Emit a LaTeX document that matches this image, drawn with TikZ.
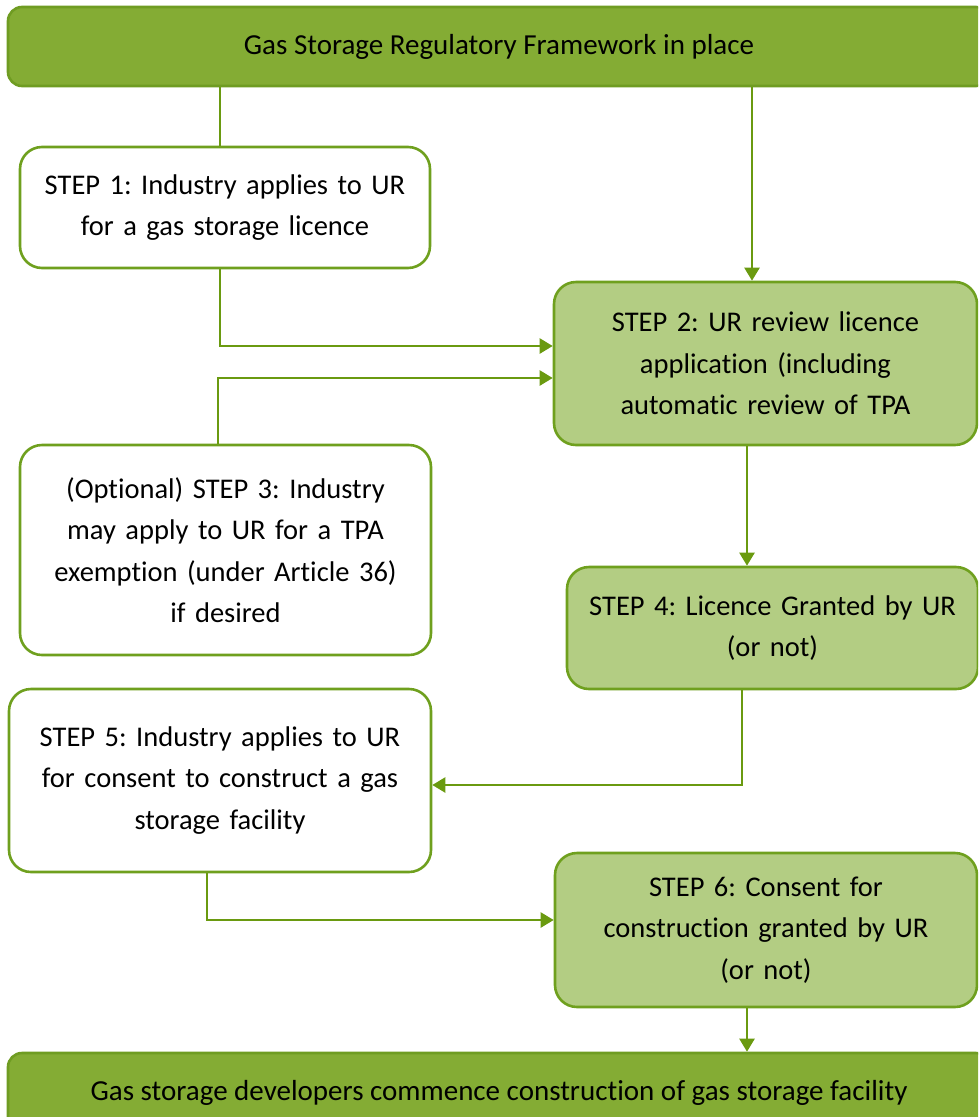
\documentclass[tikz,border=0pt]{standalone}
\usepackage{fontspec}
\setmainfont{Carlito}[Ligatures=NoCommon]
\frenchspacing
\usetikzlibrary{arrows.meta,calc}
\definecolor{barfill}{HTML}{84AC34}
\definecolor{barline}{HTML}{6F9C22}
\definecolor{lightfill}{HTML}{B3CD83}
\definecolor{boxline}{HTML}{6FA01E}
\definecolor{arrcol}{HTML}{6A9A10}
\tikzset{
  basebox/.style={rectangle, rounded corners=22pt, line width=2.6pt, draw=boxline, align=center, inner sep=0pt,
    font=\fontsize{28.5}{41.5}\selectfont},
  whitebox/.style={basebox, fill=white},
  greenbox/.style={basebox, fill=lightfill},
  barbox/.style={rectangle, rounded corners=14pt, line width=2.6pt, draw=barline, fill=barfill, align=center, inner sep=0pt,
    font=\fontsize{29}{32}\selectfont},
  conn/.style={draw=arrcol, line width=2.4pt},
  arr/.style={conn, -{Triangle[length=13pt,width=15pt]}}
}
\begin{document}
\begin{tikzpicture}[x=1pt,y=-1pt]
\useasboundingbox (0,0) rectangle (978,1117);
\clip (0,0) rectangle (978,1117);
% bars
\node[barbox, minimum width=982pt, minimum height=79pt] (top) at (499,46.5) {Gas Storage Regulatory Framework in place};
\node[barbox, minimum width=982pt, minimum height=80pt] (bot) at (499,1093) {\raisebox{6pt}{Gas storage developers commence construction of gas storage facility}};
% steps
\node[whitebox, minimum width=410pt, minimum height=121pt, text width=400pt] (s1) at (225,207.5) {STEP 1: Industry applies to UR\\for a gas storage licence};
\node[greenbox, minimum width=423pt, minimum height=163pt, text width=410pt] (s2) at (765.5,363.5) {STEP 2: UR review licence\\application (including\\automatic review of TPA\\[3pt]};
\node[whitebox, minimum width=411pt, minimum height=210pt, text width=400pt] (s3) at (225.5,550) {(Optional) STEP 3: Industry\\may apply to UR for a TPA\\exemption (under Article 36)\\if desired};
\node[greenbox, minimum width=411pt, minimum height=122pt, text width=400pt] (s4) at (772.5,628) {STEP 4: Licence Granted by UR\\(or not)\\[0pt]};
\node[whitebox, minimum width=422pt, minimum height=183pt, text width=410pt] (s5) at (220,780.5) {STEP 5: Industry applies to UR\\for consent to construct a gas\\storage facility\\[14pt]};
\node[greenbox, minimum width=422pt, minimum height=154pt, text width=410pt] (s6) at (766,930) {STEP 6: Consent for\\construction granted by UR\\(or not)};
% connectors
\draw[conn] ([xshift=-5pt]s1.north |- top.south) -- ([xshift=-5pt]s1.north);
\draw[arr] ([xshift=-13.5pt]s2.north |- top.south) -- ([xshift=-13.5pt]s2.north);
\draw[arr] ([xshift=-5pt]s1.south) |- ([yshift=17.5pt]s2.west);
\draw[arr] ([xshift=-7.5pt]s3.north) |- ([yshift=-14.5pt]s2.west);
\draw[arr] ([xshift=-18.5pt]s2.south) -- ([xshift=-18.5pt]s2.south |- s4.north);
\draw[arr] ([xshift=-30.5pt]s4.south) |- ([yshift=-4.5pt]s5.east);
\draw[arr] ([xshift=-13pt]s5.south) |- ([yshift=10pt]s6.west);
\draw[arr] ([xshift=-19pt]s6.south) -- ([xshift=-19pt]s6.south |- bot.north);
\end{tikzpicture}
\end{document}
